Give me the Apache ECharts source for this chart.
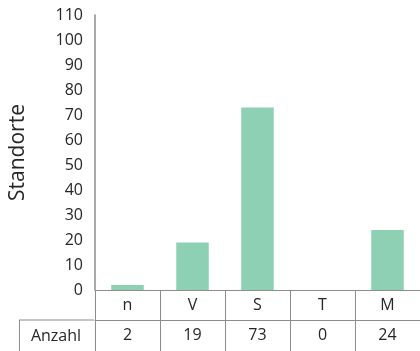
<!DOCTYPE html>
<html>
<head>
    <meta charset="utf-8">
    <script src="https://cdn.jsdelivr.net/npm/echarts@6/dist/echarts.min.js"></script>
</head>
<body style="margin:0">
    <div id="main" style="width: 420px;height:351px;"></div>
    <script type="text/javascript">
        var categories = ['n', 'V', 'S', 'T', 'M'];
        var values = [2, 19, 73, 0, 24];
        var rowTitle = 'Anzahl';

        var lineColor = '#8c8c8c';
        var textColor = '#262626';
        var font = 'Open Sans';

        var myChart = echarts.init(document.getElementById('main'));
        var option = {
            animation: false,
            grid: { left: 94, top: 15, width: 330, height: 275 },
            xAxis: [{
                type: 'category',
                data: categories,
                position: 'bottom',
                axisLine: { lineStyle: { color: lineColor, width: 1 } },
                axisTick: { show: true, length: 30, interval: 0, lineStyle: { color: lineColor } },
                axisLabel: { color: textColor, fontSize: 16, fontFamily: font, margin: 7 }
            }, {
                type: 'category',
                data: values.map(String),
                position: 'bottom',
                offset: 30,
                axisLine: { lineStyle: { color: lineColor, width: 1 } },
                axisTick: { show: true, length: 32, interval: 0, lineStyle: { color: lineColor } },
                axisLabel: { color: textColor, fontSize: 16, fontFamily: font, margin: 7 }
            }],
            yAxis: {
                type: 'value',
                min: 0,
                max: 110,
                interval: 10,
                name: 'Standorte',
                nameLocation: 'middle',
                nameGap: 66,
                nameTextStyle: { color: textColor, fontSize: 21, fontFamily: font },
                axisLine: { show: true, lineStyle: { color: lineColor, width: 1.5 } },
                axisTick: { show: false },
                splitLine: { show: false },
                axisLabel: { color: textColor, fontSize: 16, fontFamily: font, margin: 12 }
            },
            graphic: [{
                type: 'line',
                shape: { x1: 19, y1: 320, x2: 94, y2: 320 },
                style: { stroke: lineColor, lineWidth: 1 }
            }, {
                type: 'line',
                shape: { x1: 19.5, y1: 320, x2: 19.5, y2: 351 },
                style: { stroke: lineColor, lineWidth: 1 }
            }, {
                type: 'text',
                x: 56,
                y: 336,
                style: {
                    text: rowTitle, fill: textColor, fontSize: 16, fontFamily: font,
                    align: 'center', verticalAlign: 'middle'
                }
            }],
            series: [{
                type: 'bar',
                data: values,
                barWidth: '50%',
                itemStyle: { color: '#8dd0b3' }
            }]
        };
        myChart.setOption(option);
    </script>
</body>
</html>
